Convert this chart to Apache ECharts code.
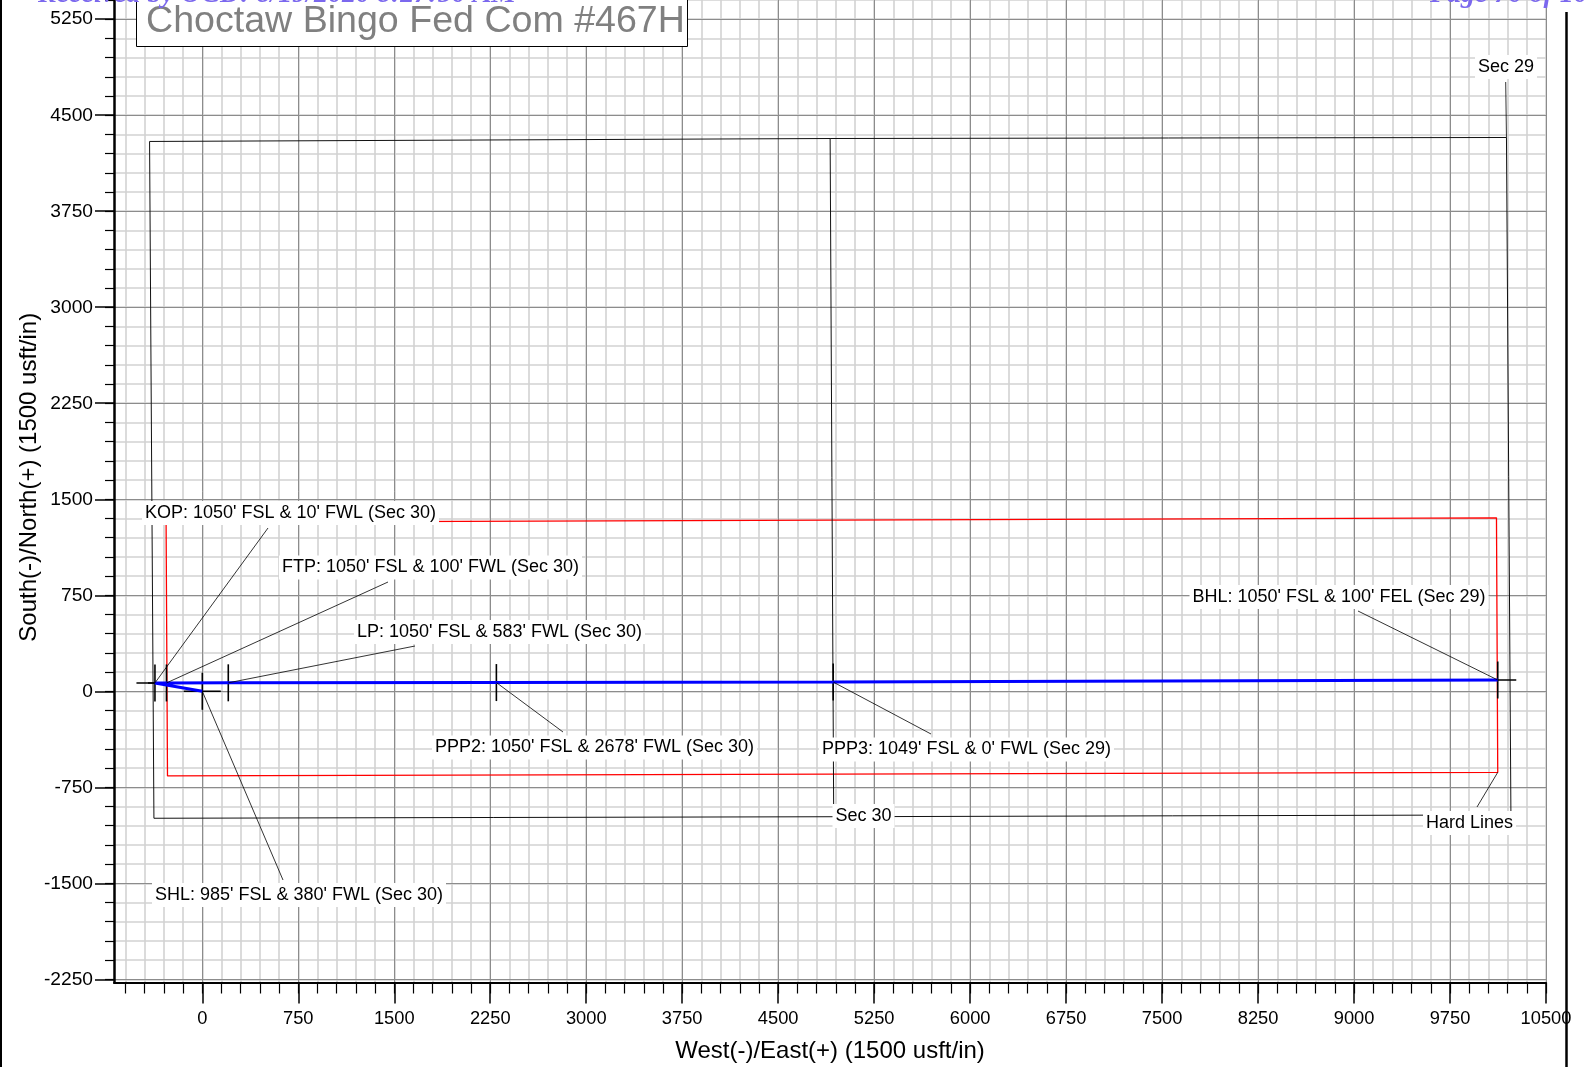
<!DOCTYPE html>
<html><head><meta charset="utf-8">
<script src="https://cdn.jsdelivr.net/npm/echarts@6/dist/echarts.min.js"></script>
<style>html,body{margin:0;padding:0;background:#fff}#c{width:1586px;height:1067px}</style>
</head><body><div id="c"></div>
<script>
// ---------- data ----------
const X_MAJOR_TICKS = [0, 750, 1500, 2250, 3000, 3750, 4500, 5250, 6000, 6750, 7500, 8250, 9000, 9750, 10500];
const Y_MAJOR_TICKS = [-2250, -1500, -750, 0, 750, 1500, 2250, 3000, 3750, 4500, 5250];
const MINOR_STEP = 150;
const X_RANGE = [-690, 10500];
const Y_RANGE = [-2275, 5400];

const pointNames = ['SHL', 'KOP', 'FTP', 'LP', 'PPP2', 'PPP3', 'BHL'];
const pointEast  = [0, -370, -280, 203, 2298, 4930, 10123];
const pointNorth = [0, 65, 65, 66, 68, 72, 88];
const pointLabels = [
  "SHL: 985' FSL & 380' FWL (Sec 30)",
  "KOP: 1050' FSL & 10' FWL (Sec 30)",
  "FTP: 1050' FSL & 100' FWL (Sec 30)",
  "LP: 1050' FSL & 583' FWL (Sec 30)",
  "PPP2: 1050' FSL & 2678' FWL (Sec 30)",
  "PPP3: 1049' FSL & 0' FWL (Sec 29)",
  "BHL: 1050' FSL & 100' FEL (Sec 29)"
];

const sec30East  = [-412, 4906, 4934, -378, -412];
const sec30North = [4295, 4318, -980, -992, 4295];
const sec29East  = [4906, 10191, 10226, 4934];
const sec29North = [4318, 4326, -966, -980];
const hardEast   = [-283, 10113, 10123, -272, -283];
const hardNorth  = [1320, 1355, -633, -661, 1320];

const TITLE = 'Choctaw Bingo Fed Com #467H';
const X_NAME = 'West(-)/East(+) (1500 usft/in)';
const Y_NAME = 'South(-)/North(+) (1500 usft/in)';

// ---------- layout (pixel positions of annotation text) ----------
const LABEL_POS = {SHL:[155,895], KOP:[145,513], FTP:[282,567.5], LP:[357,632], PPP2:[435,747.5], PPP3:[822,749.5], BHL:[1192.5,597]};
const LEADER_END = {SHL:[283,880], KOP:[268,528], FTP:[388,582], LP:[415,646], PPP2:[563,732], PPP3:[931,734], BHL:[1358,611]};

// ---------- helpers ----------
const pairs = (xs, ys) => xs.map((x, i) => [x, ys[i]]);
function minorTicks(range) {
  const out = [];
  for (let v = Math.ceil(range[0] / MINOR_STEP) * MINOR_STEP; v <= range[1]; v += MINOR_STEP) out.push(v);
  return out;
}
const FONT = '"Liberation Sans", Arial, sans-serif';
const plain = v => String(v);

const chart = echarts.init(document.getElementById('c'), null, {renderer: 'canvas'});

const majorSplit = {show: true, lineStyle: {color: '#8c8c8c', width: 1}};
const minorSplit = {show: true, lineStyle: {color: '#d2d2d2', width: 1.6}};

const option = {
  animation: false,
  backgroundColor: '#fff',
  textStyle: {fontFamily: FONT},
  title: {
    text: TITLE, left: 136, top: -12,
    padding: [15, 3, 6, 10],
    backgroundColor: '#fff', borderColor: '#000', borderWidth: 1,
    textStyle: {color: '#808080', fontSize: 37.6, fontWeight: 'normal', fontFamily: FONT}
  },
  grid: {left: 114, top: 0, width: 1432, height: 982.5, containLabel: false, outerBoundsMode: 'none'},
  xAxis: [
    {
      type: 'value', min: X_RANGE[0], max: X_RANGE[1], position: 'bottom', z: 1,
      name: X_NAME, nameLocation: 'middle', nameGap: 57, nameMoveOverlap: false,
      nameTextStyle: {fontSize: 24, color: '#000', fontFamily: FONT},
      axisLine: {show: true, onZero: false, lineStyle: {color: '#000', width: 2}},
      axisTick: {show: true, customValues: X_MAJOR_TICKS, length: 21, lineStyle: {color: '#000', width: 1.5}},
      axisLabel: {show: true, customValues: X_MAJOR_TICKS, formatter: plain, margin: 27, fontSize: 18.3, color: '#000', fontFamily: FONT},
      splitLine: majorSplit
    },
    {
      type: 'value', min: X_RANGE[0], max: X_RANGE[1], position: 'bottom', z: 0,
      axisLine: {show: false, onZero: false},
      axisTick: {show: true, customValues: minorTicks(X_RANGE), length: 11, lineStyle: {color: '#000', width: 1.2}},
      axisLabel: {show: false},
      splitLine: minorSplit
    }
  ],
  yAxis: [
    {
      type: 'value', min: Y_RANGE[0], max: Y_RANGE[1], position: 'left', z: 1,
      name: Y_NAME, nameLocation: 'middle', nameGap: 73, nameMoveOverlap: false,
      nameTextStyle: {fontSize: 24, color: '#000', fontFamily: FONT, padding: [0, 0, 0, 28]},
      axisLine: {show: true, onZero: false, lineStyle: {color: '#000', width: 2.5}},
      axisTick: {show: true, customValues: Y_MAJOR_TICKS, length: 19, lineStyle: {color: '#000', width: 1.5}},
      axisLabel: {show: true, customValues: Y_MAJOR_TICKS, formatter: plain, margin: 21, fontSize: 19.2, color: '#000', fontFamily: FONT},
      splitLine: majorSplit
    },
    {
      type: 'value', min: Y_RANGE[0], max: Y_RANGE[1], position: 'left', z: 0,
      axisLine: {show: false, onZero: false},
      axisTick: {show: true, customValues: minorTicks(Y_RANGE), length: 9, lineStyle: {color: '#000', width: 1.2}},
      axisLabel: {show: false},
      splitLine: minorSplit
    }
  ],
  series: [
    {name: 'Hard Lines', type: 'line', xAxisIndex: 0, yAxisIndex: 0, data: pairs(hardEast, hardNorth),
     symbol: 'none', silent: true, z: 3, lineStyle: {color: '#ff0000', width: 1.3}},
    {name: 'Sec 30', type: 'line', xAxisIndex: 0, yAxisIndex: 0, data: pairs(sec30East, sec30North),
     symbol: 'none', silent: true, z: 3, lineStyle: {color: '#111', width: 1}},
    {name: 'Sec 29', type: 'line', xAxisIndex: 0, yAxisIndex: 0, data: pairs(sec29East, sec29North),
     symbol: 'none', silent: true, z: 3, lineStyle: {color: '#111', width: 1}},
    {name: 'tickV', type: 'scatter', xAxisIndex: 0, yAxisIndex: 0, data: pairs(pointEast, pointNorth),
     symbol: 'rect', symbolSize: [1.6, 37], silent: true, z: 4, itemStyle: {color: '#000', opacity: 1}},
    {name: 'tickH', type: 'scatter', xAxisIndex: 0, yAxisIndex: 0, data: pairs(pointEast, pointNorth),
     symbol: 'rect', symbolSize: [37, 1.6], silent: true, z: 4, itemStyle: {color: '#000', opacity: 1}},
    {name: 'Wellpath', type: 'line', xAxisIndex: 0, yAxisIndex: 0, data: pairs(pointEast, pointNorth),
     symbol: 'none', silent: true, z: 5, lineStyle: {color: '#0000ff', width: 3}}
  ]
};
chart.setOption(option);

// ---------- annotations ----------
const toPx = (x, y) => chart.convertToPixel({seriesIndex: 5}, [x, y]);
const graphics = [];
function addLabel(text, pos, z) {
  graphics.push({type: 'text', z: z || 60, silent: true,
    style: {text: text, x: pos[0] - 3, y: pos[1], font: '18px ' + FONT, fill: '#000',
            backgroundColor: '#fff', padding: [3, 3, 3, 3], align: 'left', verticalAlign: 'middle'}});
}
function addLeader(p0, p1) {
  graphics.push({type: 'line', z: 50, silent: true,
    shape: {x1: p0[0], y1: p0[1], x2: p1[0], y2: p1[1]},
    style: {stroke: '#000', lineWidth: 0.8}});
}
pointNames.forEach((n, i) => {
  const p = toPx(pointEast[i], pointNorth[i]);
  addLeader(p, LEADER_END[n]);
  addLabel(pointLabels[i], LABEL_POS[n]);
});
// section / hard-line labels
addLeader(toPx(sec29East[1], sec29North[1]), [1505.7, 82]);
addLabel('Sec 29', [1478, 67]);
addLabel('Sec 30', [835.5, 816]);
addLeader(toPx(hardEast[2], hardNorth[2]), [1477, 807]);
addLabel('Hard Lines', [1426, 823]);

// page furniture
graphics.push({type: 'line', z: 70, silent: true, shape: {x1: 1, y1: 0, x2: 1, y2: 1067}, style: {stroke: '#000', lineWidth: 2}});
graphics.push({type: 'line', z: 70, silent: true, shape: {x1: 1566.5, y1: 12, x2: 1566.5, y2: 1067}, style: {stroke: '#000', lineWidth: 2.5}});
graphics.push({type: 'text', z: 70, silent: true,
  style: {text: 'Received by OCD: 8/19/2020 8:27:50 AM', x: 38, y: -5, font: 'italic bold 28px "Liberation Serif", serif',
          fill: '#7b68ee', align: 'left', verticalAlign: 'middle'}});
graphics.push({type: 'text', z: 70, silent: true,
  style: {text: 'Page 70 of 103', x: 1430, y: -5, font: 'italic bold 28px "Liberation Serif", serif',
          fill: '#7b68ee', align: 'left', verticalAlign: 'middle'}});

chart.setOption({graphic: graphics});
</script></body></html>
